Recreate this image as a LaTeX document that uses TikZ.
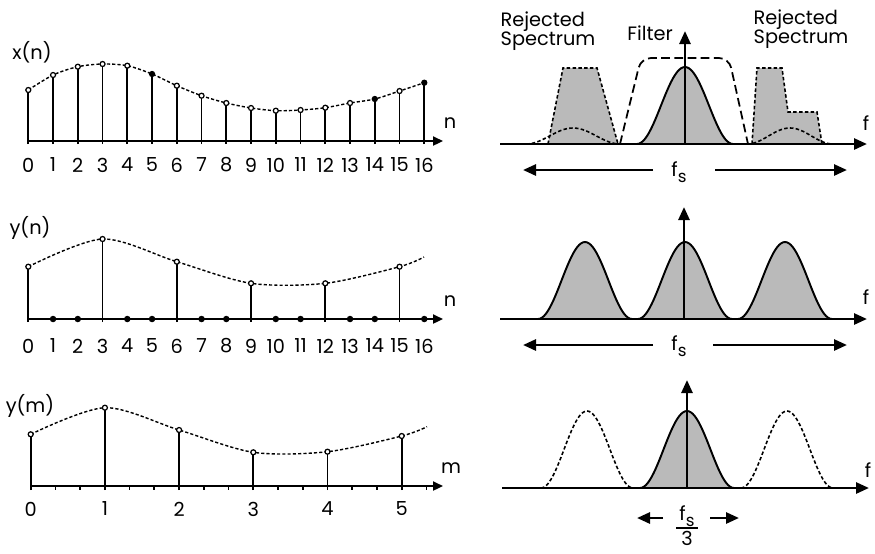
\documentclass[tikz,border=0pt]{standalone}
\usepackage{fontspec}
\setmainfont{Poppins}
\usetikzlibrary{arrows.meta}
\newcommand{\fsamp}{f\raisebox{-0.55ex}{\fontsize{9.5}{9.5}\selectfont s}}

\tikzset{
  laxis/.style={line width=1.3pt, -{Triangle[length=2mm,width=1.8mm]}},
  raxis/.style={line width=1.5pt, -{Triangle[length=2.6mm,width=2.2mm]}},
  span/.style={line width=1.5pt, -{Triangle[length=2.6mm,width=2.2mm]}},
  stem/.style={line width=1pt},
  curve/.style={line width=0.8pt, dash pattern=on 1.8pt off 1.2pt},
  open/.style={circle, draw, fill=white, line width=0.7pt, inner sep=0pt, minimum size=1mm},
  full/.style={circle, draw, fill=black, line width=0.7pt, inner sep=0pt, minimum size=1mm},
  zero/.style={circle, fill=black, inner sep=0pt, minimum size=1.3mm},
  digit/.style={inner sep=0pt},
  bell/.style={line width=1.1pt, fill=black!27},
  ghost/.style={line width=0.9pt, dash pattern=on 2pt off 1.3pt},
  reject/.style={line width=0.9pt, dash pattern=on 2pt off 1.3pt, fill=black!27},
  filter/.style={line width=1pt, dash pattern=on 5pt off 2.5pt, rounded corners=2mm},
  tag/.style={align=left, font=\fontsize{11}{11}\selectfont, inner sep=0pt}
}

\begin{document}
\begin{tikzpicture}[x=0.2mm, y=-0.2mm, font=\fontsize{11}{13}\selectfont]
  \useasboundingbox (0,0) rectangle (875,553);

  % ===== LEFT TOP: x(n) =====
  \coordinate (xo) at (28,141);
  \coordinate (xe) at (443,141);
  \coordinate (xb) at (28,144);
  \draw[laxis] (xo) -- (xe);
  \node (xlab) at (32,52) {x(n)};
  \node (xvar) at (450,123) {n};
  \foreach \n/\v in {0/90, 1/75, 2/66.7, 3/64, 4/65.7, 5/74, 6/85.7, 7/95.7, 8/103,
                     9/108, 10/110.7, 11/110, 12/107.7, 13/103, 14/99, 15/91, 16/82.7} {
    \coordinate (p\n) at (28.3+24.75*\n,\v);
  }
  \draw[curve] plot[smooth] coordinates {(p0) (p1) (p2) (p3) (p4) (p5) (p6) (p7) (p8)
    (p9) (p10) (p11) (p12) (p13) (p14) (p15) (p16)};
  \foreach \n in {0,...,16} {
    \draw[stem] (p\n |- xb) -- (p\n);
    \node[digit] (xn\n) at (28.3+24.75*\n,165) {\n};
  }
  \foreach \n in {0,1,2,3,4,6,7,8,9,10,11,12,13,15} \node[open] (xs\n) at (p\n) {};
  \foreach \n in {5,14,16} \node[full] (xs\n) at (p\n) {};

  % ===== LEFT MIDDLE: y(n) =====
  \coordinate (yo) at (28,319);
  \coordinate (ye) at (443,319);
  \coordinate (yb) at (28,322);
  \draw[laxis] (yo) -- (ye);
  \node (ylab) at (30,228) {y(n)};
  \node (yvar) at (450,301) {n};
  \foreach \n/\v in {0/266.7, 3/239, 6/261.7, 9/283.3, 12/283.3, 15/266.7} {
    \coordinate (q\n) at (28.3+24.75*\n,\v);
  }
  \coordinate (qend) at (424,257);
  \draw[curve] plot[smooth] coordinates {(q0) (q3) (q6) (q9) (q12) (q15) (qend)};
  \foreach \n in {0,3,6,9,12,15} {
    \draw[stem] (q\n |- yb) -- (q\n);
    \node[open] (ys\n) at (q\n) {};
  }
  \foreach \n in {1,2,4,5,7,8,10,11,13,14,16} \node[zero] (yz\n) at (28.3+24.75*\n,319) {};
  \foreach \n in {0,...,16} \node[digit] (yn\n) at (28.3+24.75*\n,346) {\n};

  % ===== LEFT BOTTOM: y(m) =====
  \coordinate (mo) at (30,486);
  \coordinate (me) at (443,486);
  \coordinate (mb) at (30,490);
  \draw[laxis] (mo) -- (me);
  \node (mlab) at (30,406) {y(m)};
  \node (mvar) at (451,468) {m};
  \foreach \k in {0,...,16} \draw[stem] (30.7+24.73*\k,486) -- ++(0,4);
  \foreach \m/\v in {0/434.3, 1/407.7, 2/430, 3/452.3, 4/451.7, 5/436} {
    \coordinate (r\m) at (30.7+74.2*\m,\v);
  }
  \coordinate (rend) at (427,426.7);
  \draw[curve] plot[smooth] coordinates {(r0) (r1) (r2) (r3) (r4) (r5) (rend)};
  \foreach \m in {0,...,5} {
    \draw[stem] (r\m |- mb) -- (r\m);
    \node[open] (ms\m) at (r\m) {};
    \node[digit] (mn\m) at (30.7+74.2*\m,509) {\m};
  }

  % ===== RIGHT TOP: spectrum before filtering =====
  \filldraw[reject] (548,144) -- (563,68) -- (597,68) -- (618,144);
  \filldraw[reject] (752,144) -- (757,68) -- (782,68) -- (788,112) -- (817,112) -- (822,144);
  \draw[ghost] plot[domain=-47:47, samples=41] ({573+\x},{144-16*(1+cos(180*\x/47))/2});
  \draw[ghost] plot[domain=-43:43, samples=41] ({790+\x},{144-16*(1+cos(180*\x/43))/2});
  \draw[filter] (620,144) -- (641,58) -- (729,58) -- (748,144);
  \filldraw[bell] plot[domain=-48:48, samples=49] ({685+\x},{144-77*(1+cos(180*\x/48))/2});
  \coordinate (fo1) at (500,144);
  \coordinate (fe1) at (867,144);
  \coordinate (vo1) at (685,144);
  \coordinate (vt1) at (685,31);
  \draw[raxis] (fo1) -- (fe1);
  \draw[raxis] (vo1) -- (vt1);
  \node (flab1) at (866,123) {f};
  \node[tag] (rejl) at (548,31) {Rejected\\Spectrum};
  \node[tag] (rejr) at (801,29) {Rejected\\Spectrum};
  \node[inner sep=0pt] (filt) at (650,33) {Filter};
  \node (fs1) at (679,172) {\fsamp};
  \coordinate (la1) at (653,170);
  \coordinate (lt1) at (523,170);
  \coordinate (ra1) at (715,170);
  \coordinate (rt1) at (847,170);
  \draw[span] (la1) -- (lt1);
  \draw[span] (ra1) -- (rt1);

  % ===== RIGHT MIDDLE: images at fs =====
  \foreach \c in {585,685,785}
    \filldraw[bell] plot[domain=-47:47, samples=49] ({\c+\x},{319-77*(1+cos(180*\x/47))/2});
  \coordinate (fo2) at (500,319);
  \coordinate (fe2) at (867,319);
  \coordinate (vo2) at (684,319);
  \coordinate (vt2) at (684,207);
  \draw[raxis] (fo2) -- (fe2);
  \draw[raxis] (vo2) -- (vt2);
  \node (flab2) at (866,297) {f};
  \node (fs2) at (679,346) {\fsamp};
  \coordinate (la2) at (653,345);
  \coordinate (lt2) at (523,345);
  \coordinate (ra2) at (713,345);
  \coordinate (rt2) at (847,345);
  \draw[span] (la2) -- (lt2);
  \draw[span] (ra2) -- (rt2);

  % ===== RIGHT BOTTOM: after decimation =====
  \foreach \c in {587,787}
    \draw[ghost] plot[domain=-46:46, samples=49] ({\c+\x},{488-77*(1+cos(180*\x/46))/2});
  \filldraw[bell] plot[domain=-47:47, samples=49] ({687+\x},{488-77*(1+cos(180*\x/47))/2});
  \coordinate (fo3) at (502,488);
  \coordinate (fe3) at (869,488);
  \coordinate (vo3) at (687,488);
  \coordinate (vt3) at (687,380);
  \draw[raxis] (fo3) -- (fe3);
  \draw[raxis] (vo3) -- (vt3);
  \node (flab3) at (868,470) {f};
  \node[inner sep=0pt] (fs3) at (687,516) {\fsamp};
  \node[inner sep=0pt] (three) at (687,538) {3};
  \draw[line width=1.1pt] (676,528) -- (698,528);
  \coordinate (la3) at (663,518);
  \coordinate (lt3) at (637,518);
  \coordinate (ra3) at (710,518);
  \coordinate (rt3) at (739,518);
  \draw[span] (la3) -- (lt3);
  \draw[span] (ra3) -- (rt3);
\end{tikzpicture}
\end{document}
